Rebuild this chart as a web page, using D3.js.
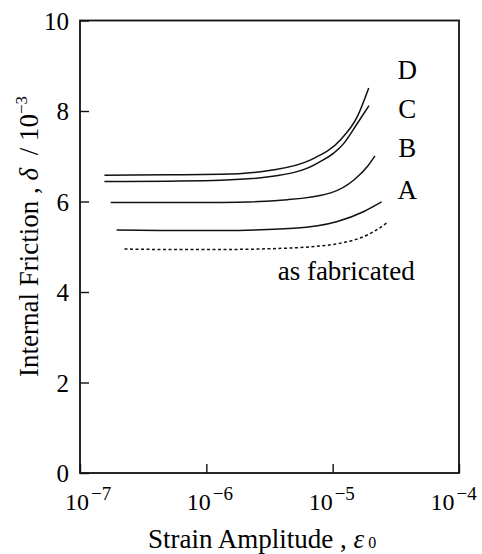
<!DOCTYPE html>
<html>
<head>
<meta charset="utf-8">
<script src="https://cdn.jsdelivr.net/npm/d3@7"></script>
<style>
  body { margin: 0; background: #fff; }
  svg { display: block; }
</style>
</head>
<body>
<svg width="482" height="554"></svg>
<script>
// strain amplitude (x) and internal friction /1e-3 (y) per sample
var strainD = [1.56e-7, 5e-7, 1.3e-6, 3.24e-6, 6.7e-6, 1.16e-5, 1.57e-5, 1.93e-5];
var frictionD = [6.58, 6.59, 6.60, 6.69, 6.92, 7.37, 7.88, 8.51];

var strainC = [1.56e-7, 5e-7, 1.3e-6, 3.24e-6, 7.6e-6, 1.23e-5, 1.57e-5, 1.94e-5];
var frictionC = [6.44, 6.45, 6.47, 6.55, 6.85, 7.29, 7.73, 8.12];

var strainB = [1.75e-7, 5e-7, 1.3e-6, 4.39e-6, 9.66e-6, 1.48e-5, 1.89e-5, 2.16e-5];
var frictionB = [5.98, 5.98, 5.98, 6.04, 6.19, 6.48, 6.78, 7.01];

var strainA = [1.95e-7, 5e-7, 1.3e-6, 4.94e-6, 1.09e-5, 1.77e-5, 2.44e-5];
var frictionA = [5.37, 5.36, 5.36, 5.41, 5.56, 5.78, 5.99];

var strainFab = [2.25e-7, 5e-7, 1.3e-6, 4.39e-6, 1.16e-5, 2.13e-5, 2.72e-5];
var frictionFab = [4.95, 4.94, 4.94, 4.97, 5.08, 5.34, 5.54];

var seriesNames = ["D", "C", "B", "A", "as fabricated"];
var xTicks = [1e-7, 1e-6, 1e-5, 1e-4];
var xTickExp = ["\u22127", "\u22126", "\u22125", "\u22124"];
var yTicks = [0, 2, 4, 6, 8, 10];

var serif = "'Liberation Serif', 'Times New Roman', serif";

var svg = d3.select("svg")
    .style("font-family", serif);

var x = d3.scaleLog().domain([1e-7, 1e-4]).range([80, 459]);
var y = d3.scaleLinear().domain([0, 10]).range([473, 20.5]);

var series = [
  {name: "D", xs: strainD, ys: frictionD, dashed: false},
  {name: "C", xs: strainC, ys: frictionC, dashed: false},
  {name: "B", xs: strainB, ys: frictionB, dashed: false},
  {name: "A", xs: strainA, ys: frictionA, dashed: false},
  {name: "as fabricated", xs: strainFab, ys: frictionFab, dashed: true}
];

// frame
svg.append("rect")
    .attr("x", x.range()[0])
    .attr("y", y.range()[1])
    .attr("width", x.range()[1] - x.range()[0])
    .attr("height", y.range()[0] - y.range()[1])
    .attr("fill", "none")
    .attr("stroke", "#111")
    .attr("stroke-width", 1.8);

// inward ticks
var yAxis = svg.append("g")
    .attr("transform", "translate(" + x.range()[0] + ",0)")
    .call(d3.axisRight(y).tickValues(yTicks).tickSize(9).tickFormat(""));
yAxis.select(".domain").remove();
yAxis.selectAll("line").attr("stroke", "#111").attr("stroke-width", 1.4);

var xAxis = svg.append("g")
    .attr("transform", "translate(0," + y.range()[0] + ")")
    .call(d3.axisTop(x).tickValues(xTicks).tickSize(9).tickFormat(""));
xAxis.select(".domain").remove();
xAxis.selectAll("line").attr("stroke", "#111").attr("stroke-width", 1.4);

// y tick labels
svg.append("g").selectAll("text")
    .data(yTicks)
    .enter().append("text")
    .attr("x", 69)
    .attr("y", function(d) { return y(d) + 9; })
    .attr("text-anchor", "end")
    .style("font-family", serif)
    .style("font-size", "25px")
    .text(function(d) { return d; });

// x tick labels 10^n (the original drifts slightly left of its ticks)
var xl = svg.append("g").selectAll("text")
    .data(xTicks)
    .enter().append("text")
    .attr("x", function(d, i) { return x(d) - 15 - 4.5 * i; })
    .attr("y", 510)
    .attr("text-anchor", "start")
    .style("font-family", serif)
    .style("font-size", "24px");
xl.append("tspan").text("10");
xl.append("tspan")
    .attr("dy", -10)
    .attr("dx", 2)
    .style("font-size", "19px")
    .text(function(d, i) { return xTickExp[i]; });

// curves
var line = d3.line()
    .x(function(d) { return x(d[0]); })
    .y(function(d) { return y(d[1]); })
    .curve(d3.curveMonotoneX);

svg.append("g").selectAll("path")
    .data(series)
    .enter().append("path")
    .attr("d", function(s) {
        return line(s.xs.map(function(v, i) { return [v, s.ys[i]]; }));
    })
    .attr("fill", "none")
    .attr("stroke", "#111")
    .attr("stroke-width", 1.5)
    .attr("stroke-dasharray", function(s) { return s.dashed ? "3,2.5" : null; });

// curve labels
var labelAt = {
  "D": [3.9e-5, 8.71, "middle"],
  "C": [3.9e-5, 7.84, "middle"],
  "B": [3.9e-5, 6.99, "middle"],
  "A": [3.9e-5, 6.05, "middle"],
  "as fabricated": [3.67e-6, 4.27, "start"]
};
svg.append("g").selectAll("text")
    .data(seriesNames)
    .enter().append("text")
    .attr("x", function(d) { return x(labelAt[d][0]); })
    .attr("y", function(d) { return y(labelAt[d][1]); })
    .attr("text-anchor", function(d) { return labelAt[d][2]; })
    .style("font-family", serif)
    .style("font-size", "27px")
    .text(function(d) { return d; });

// axis titles
var xt = svg.append("text")
    .attr("x", 148)
    .attr("y", 548)
    .attr("text-anchor", "start")
    .style("font-family", serif)
    .style("font-size", "27px");
xt.append("tspan").text("Strain Amplitude ,  ");
xt.append("tspan").style("font-style", "italic").text("\u03b5");
xt.append("tspan").attr("dx", 4).style("font-size", "16px").text("0");

var yt = svg.append("text")
    .attr("transform", "translate(38,377) rotate(-90)")
    .attr("text-anchor", "start")
    .style("font-family", serif)
    .style("font-size", "27px");
yt.append("tspan").text("Internal Friction , ");
yt.append("tspan").style("font-style", "italic").text("\u03b4");
yt.append("tspan").attr("dx", 6).text(" / 10");
yt.append("tspan").attr("dy", -11).style("font-size", "17px").text("\u22123");
</script>
</body>
</html>
